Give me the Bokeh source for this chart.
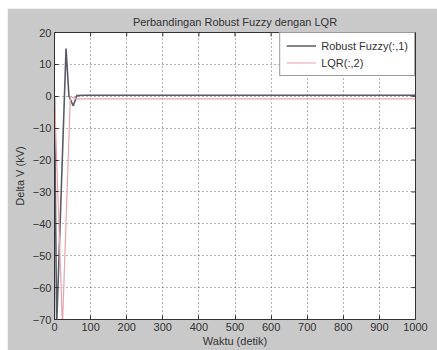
import math
from bokeh.plotting import figure
from bokeh.embed import file_html
from bokeh.resources import INLINE
from bokeh.models import FixedTicker, Legend, LegendItem, Range1d

# --- data ---
t_fuzzy = [0, 6, 32, 40, 52, 62, 80, 100, 200, 300, 400, 500, 600, 700, 800, 900, 1000]
robust_fuzzy = [0, -72, 15, 0, -3, 0.2, 0.3, 0.3, 0.3, 0.3, 0.3, 0.3, 0.3, 0.3, 0.3, 0.3, 0.3]
t_lqr = [0, 22, 44, 60, 80, 100, 200, 300, 400, 500, 600, 700, 800, 900, 1000]
lqr = [0, -72, 0, -0.8, -0.8, -0.8, -0.8, -0.8, -0.8, -0.8, -0.8, -0.8, -0.8, -0.8, -0.8]
x_ticks = [0, 100, 200, 300, 400, 500, 600, 700, 800, 900, 1000]
y_ticks = [-70, -60, -50, -40, -30, -20, -10, 0, 10, 20]
x_min, x_max = 0, 1000
y_min, y_max = -70, 20
title_text = "Perbandingan Robust Fuzzy dengan LQR"
x_label = "Waktu (detik)"
y_label = "Delta V (kV)"
legend_labels = ["Robust Fuzzy(:,1)", "LQR(:,2)"]

FONT = "Liberation Sans"
BG = "#c9c9c9"
INK = "#333333"

p = figure(width=430, height=342, output_backend="svg", toolbar_location=None,
           x_range=Range1d(x_min, x_max), y_range=Range1d(y_min, y_max),
           min_border_left=47, min_border_right=22, min_border_top=24, min_border_bottom=31,
           background_fill_color="white", border_fill_color=BG,
           outline_line_color=INK, outline_line_width=1)
p.margin = (8, 0, 0, 7)
p.title.text = title_text
p.title.align = "center"
p.title.text_font = FONT
p.title.text_font_size = "11px"
p.title.text_font_style = "normal"
p.title.text_color = INK
p.title.offset = 0

r1 = p.line(t_fuzzy, robust_fuzzy, line_color="#5a5a66", line_width=1.6)
r2 = p.line(t_lqr, lqr, line_color="#e9a3ad", line_width=1.2)

for ax in (p.xaxis[0], p.yaxis[0]):
    ax.major_label_text_font = FONT
    ax.major_label_text_font_size = "11px"
    ax.major_label_text_color = INK
    ax.axis_label_text_font = FONT
    ax.axis_label_text_font_size = "11px"
    ax.axis_label_text_font_style = "normal"
    ax.axis_label_text_color = INK
    ax.major_tick_in = 4
    ax.major_tick_out = 0
    ax.minor_tick_line_color = None
    ax.axis_line_color = INK
    ax.major_tick_line_color = INK

p.xaxis[0].ticker = FixedTicker(ticks=x_ticks)
p.yaxis[0].ticker = FixedTicker(ticks=y_ticks)
p.xaxis[0].axis_label = x_label
p.yaxis[0].axis_label = y_label
p.xaxis[0].axis_label_standoff = 1
p.yaxis[0].axis_label_standoff = 4
p.xaxis[0].major_label_standoff = 3
p.yaxis[0].major_label_standoff = 3

# inward ticks on the top and right edges of the box (MATLAB style)
p.ray(x=x_ticks, y=[y_max] * len(x_ticks), length=4, length_units="screen",
      angle=-math.pi / 2, line_color=INK, line_width=1)
p.ray(x=[x_max] * len(y_ticks), y=y_ticks, length=4, length_units="screen",
      angle=math.pi, line_color=INK, line_width=1)

p.xgrid.ticker = FixedTicker(ticks=x_ticks)
p.ygrid.ticker = FixedTicker(ticks=y_ticks)
p.grid.grid_line_color = "#444444"
p.grid.grid_line_dash = "1 3"
p.grid.grid_line_alpha = 0.8

legend = Legend(items=[LegendItem(label=legend_labels[0], renderers=[r1]),
                       LegendItem(label=legend_labels[1], renderers=[r2])],
                location="top_right", margin=0, padding=6, spacing=4,
                label_text_font=FONT, label_text_font_size="11px", label_text_color=INK,
                label_height=13, glyph_height=13, glyph_width=30, label_standoff=5,
                border_line_color=INK, background_fill_color="white",
                background_fill_alpha=1.0)
p.add_layout(legend)

open("out.html", "w").write(file_html(p, INLINE))
